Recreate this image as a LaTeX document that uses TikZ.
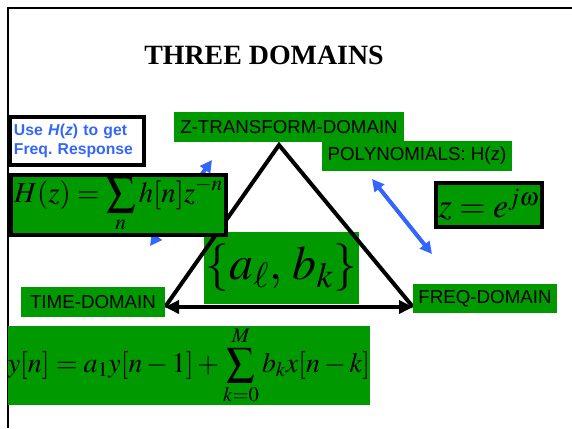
\documentclass[tikz,border=0pt]{standalone}
\usepackage{mathptmx}
\usepackage{fontspec}
\setmainfont{Liberation Serif}
\setsansfont{Liberation Sans}
\usetikzlibrary{arrows.meta}
\definecolor{slidegreen}{RGB}{0,153,0}
\definecolor{slideblue}{RGB}{51,102,255}

\begin{document}
\begin{tikzpicture}[x=1bp,y=-1bp,
  dom/.style={fill=slidegreen,inner sep=0pt,font=\sffamily\fontsize{18.8}{22}\selectfont,minimum height=30bp},
  eqbox/.style={fill=slidegreen,inner sep=0pt},
  framed/.style={eqbox,draw=black,line width=4bp},
  tri/.style={line width=4bp,line join=miter},
  freqarr/.style={draw=slideblue,line width=4bp,{Triangle[length=12bp,width=12bp]}-{Triangle[length=12bp,width=12bp]}}]
\useasboundingbox (0,0) rectangle (572,428);
\draw[line width=2bp] (8,428) -- (8,8) -- (572,8);
\node[font=\bfseries\fontsize{28}{30}\selectfont] (title) at (264,55) {THREE DOMAINS};
\coordinate (ptop) at (212,160); \coordinate (pbot) at (150,246);
\coordinate (qtop) at (372,179); \coordinate (qbot) at (432,254);
\draw[freqarr] (pbot) -- (ptop);
\draw[freqarr] (qtop) -- (qbot);
\node[eqbox,minimum width=155bp,minimum height=72bp,font=\fontsize{48}{50}\selectfont] (coef) at (281.5,268) {$\left\{a_\ell,\,b_k\right\}$};
\coordinate (apex) at (279,145);
\coordinate (tleft) at (165,307);
\coordinate (tright) at (413,307);
\draw[tri] (tleft) -- (apex) -- (tright);
\draw[tri,{Triangle[length=14bp,width=13bp]}-{Triangle[length=14bp,width=13bp]}] (tleft) -- (tright);
\node[framed,minimum width=215bp,minimum height=60bp,font=\fontsize{29}{30}\selectfont] (hz) at (118.5,205) {$\displaystyle H(z)=\sum_n h[n]z^{-n}$};
\node[draw,line width=4bp,fill=white,text width=126bp,inner xsep=4bp,inner ysep=0pt,minimum height=48bp,align=left,text=slideblue,font=\sffamily\bfseries\fontsize{15.8}{19}\selectfont] (use) at (77,141) {\frenchspacing Use \textit{H}(\textit{z}) to get\\Freq. Response};
\node[framed,minimum width=106bp,minimum height=44bp,font=\fontsize{34}{36}\selectfont] (zmap) at (489,205) {$z=e^{j\omega}$};
\node[dom,minimum width=230bp] (ztd) at (289,127) {Z-TRANSFORM-DOMAIN};
\node[dom,minimum width=190bp] (poly) at (417,156) {POLYNOMIALS: H(z)};
\node[dom,minimum width=144bp] (tdom) at (93,302) {TIME-DOMAIN};
\node[dom,minimum width=144bp,minimum height=29bp] (fdom) at (485,298.5) {FREQ-DOMAIN};
\node[eqbox,minimum width=362bp,minimum height=79bp,font=\fontsize{28}{30}\selectfont] (diffeq) at (189,365.5) {$\displaystyle y[n]=a_1y[n-1]+\sum_{k=0}^{M}b_kx[n-k]$};
\end{tikzpicture}
\end{document}
